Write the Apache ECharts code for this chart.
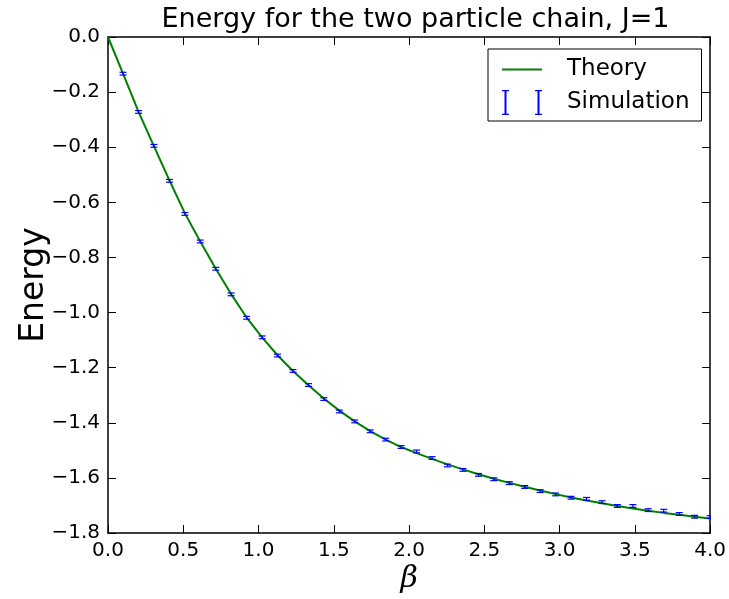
<!DOCTYPE html>
<html>
<head>
<meta charset="utf-8">
<script src="https://cdn.jsdelivr.net/npm/echarts@6/dist/echarts.min.js"></script>
<style>
  html, body { margin: 0; padding: 0; background: #ffffff; }
  #chart { width: 729px; height: 599px; }
</style>
</head>
<body>
<div id="chart"></div>
<script>
// Inverse temperature values of the Monte Carlo runs
const betaSim = [0.100, 0.203, 0.305, 0.408, 0.511, 0.613, 0.716, 0.818, 0.921, 1.024,
                 1.126, 1.229, 1.332, 1.434, 1.537, 1.639, 1.742, 1.845, 1.947, 2.050,
                 2.153, 2.255, 2.358, 2.461, 2.563, 2.666, 2.768, 2.871, 2.974, 3.076,
                 3.179, 3.282, 3.384, 3.487, 3.589, 3.692, 3.795, 3.897, 4.000];
// Mean energy from the simulation
const energySim = [-0.133, -0.272, -0.395, -0.522, -0.642, -0.742, -0.841, -0.934, -1.019, -1.090,
                   -1.156, -1.212, -1.263, -1.314, -1.359, -1.395, -1.431, -1.461, -1.488, -1.504,
                   -1.528, -1.555, -1.571, -1.589, -1.605, -1.619, -1.633, -1.648, -1.660, -1.672,
                   -1.676, -1.688, -1.702, -1.702, -1.717, -1.719, -1.731, -1.741, -1.742];
// Statistical error of each simulated mean
const errorSim = [0.005, 0.005, 0.005, 0.005, 0.005, 0.005, 0.005, 0.005, 0.005, 0.005,
                  0.005, 0.005, 0.005, 0.005, 0.005, 0.005, 0.005, 0.005, 0.005, 0.005,
                  0.005, 0.005, 0.005, 0.005, 0.005, 0.005, 0.005, 0.005, 0.005, 0.005,
                  0.005, 0.005, 0.005, 0.005, 0.005, 0.005, 0.005, 0.005, 0.005];
// Exact energy curve
const betaTheory = [0.000, 0.100, 0.203, 0.305, 0.408, 0.511, 0.613, 0.716, 0.818, 0.921, 1.024,
                    1.126, 1.229, 1.332, 1.434, 1.537, 1.639, 1.742, 1.845, 1.947, 2.050,
                    2.153, 2.255, 2.358, 2.461, 2.563, 2.666, 2.768, 2.871, 2.974, 3.076,
                    3.179, 3.282, 3.384, 3.487, 3.589, 3.692, 3.795, 3.897, 4.000];
const energyTheory = [0.000, -0.133, -0.272, -0.396, -0.520, -0.640, -0.742, -0.841, -0.933, -1.018, -1.090,
                      -1.155, -1.212, -1.264, -1.312, -1.356, -1.395, -1.430, -1.461, -1.488, -1.510,
                      -1.531, -1.551, -1.569, -1.587, -1.603, -1.618, -1.632, -1.646, -1.659, -1.671,
                      -1.682, -1.692, -1.702, -1.711, -1.719, -1.727, -1.734, -1.741, -1.747];
const xTickStep = 0.5;
const yTickStep = 0.2;

const FONT = 'DejaVu Sans';
const fmt = v => (v < -1e-9 ? '\u2212' : '') + Math.abs(v).toFixed(1);

const chart = echarts.init(document.getElementById('chart'), null, { renderer: 'canvas' });

const frameLine = { show: true, onZero: false, lineStyle: { color: '#000', width: 1.5 } };
const innerTick = { show: true, inside: true, length: 8, lineStyle: { color: '#000', width: 1 } };

// Vertical error bar with short caps at both ends
function errorBar(params, api) {
  const x = api.value(0), y = api.value(1), e = api.value(2);
  const hi = api.coord([x, y + e]);
  const lo = api.coord([x, y - e]);
  const w = 3.5;
  const style = { stroke: '#0000ff', lineWidth: 1.2 };
  return {
    type: 'group',
    children: [
      { type: 'line', shape: { x1: hi[0], y1: hi[1], x2: lo[0], y2: lo[1] }, style },
      { type: 'line', shape: { x1: hi[0] - w, y1: hi[1], x2: hi[0] + w, y2: hi[1] }, style },
      { type: 'line', shape: { x1: lo[0] - w, y1: lo[1], x2: lo[0] + w, y2: lo[1] }, style }
    ]
  };
}

// Legend keys drawn in a 40 x 25 box
const lineIcon = 'path://M0,0H0.01V0.01H0Z M0,11.5H40V13.5H0Z M39.99,24.99H40V25H39.99Z';
const errIcon = 'path://M0,0H7V1.2H4.5V23.8H7V25H0V23.8H2.5V1.2H0Z M33,0H40V1.2H37.5V23.8H40V25H33V23.8H35.5V1.2H33Z';

chart.setOption({
  backgroundColor: '#ffffff',
  animation: false,
  title: {
    text: 'Energy for the two particle chain, J=1',
    left: 410.5,
    top: 1,
    textAlign: 'center',
    textStyle: { fontFamily: FONT, fontSize: 27, fontWeight: 'normal', color: '#000' }
  },
  legend: {
    orient: 'vertical',
    left: 488,
    top: 49,
    padding: [8, 12, 6, 14],
    itemGap: 8,
    itemWidth: 40,
    itemHeight: 25,
    borderColor: '#000',
    borderWidth: 1,
    borderRadius: 0,
    backgroundColor: '#fff',
    textStyle: { fontFamily: FONT, fontSize: 23, color: '#000', lineHeight: 25, padding: [0, 0, 0, 20] },
    data: [{ name: 'Theory', icon: lineIcon }, { name: 'Simulation', icon: errIcon }]
  },
  grid: { left: 108, right: 16, top: 37, bottom: 64, containLabel: false },
  xAxis: [
    {
      type: 'value', min: 0, max: 4, interval: xTickStep, position: 'bottom',
      axisLine: frameLine, axisTick: innerTick, splitLine: { show: false },
      axisLabel: { formatter: fmt, fontFamily: FONT, fontSize: 20, color: '#000', margin: 8 },
      name: 'β', nameLocation: 'middle', nameGap: 31, nameMoveOverlap: false,
      nameTextStyle: { fontFamily: 'DejaVu Serif', fontStyle: 'italic', fontSize: 30, color: '#000' }
    },
    {
      type: 'value', min: 0, max: 4, interval: xTickStep, position: 'top',
      axisLine: frameLine, axisTick: innerTick, splitLine: { show: false },
      axisLabel: { show: false }
    }
  ],
  yAxis: [
    {
      type: 'value', min: -1.8, max: 0, interval: yTickStep, position: 'left',
      axisLine: frameLine, axisTick: innerTick, splitLine: { show: false },
      axisLabel: { formatter: fmt, fontFamily: FONT, fontSize: 20, color: '#000', margin: 8 },
      name: 'Energy', nameLocation: 'middle', nameRotate: 90, nameGap: 57, nameMoveOverlap: false,
      nameTextStyle: { fontFamily: FONT, fontSize: 33, color: '#000' }
    },
    {
      type: 'value', min: -1.8, max: 0, interval: yTickStep, position: 'right',
      axisLine: frameLine, axisTick: innerTick, splitLine: { show: false },
      axisLabel: { show: false }
    }
  ],
  series: [
    {
      name: 'Theory',
      type: 'line',
      xAxisIndex: 0, yAxisIndex: 0,
      data: betaTheory.map((b, i) => [b, energyTheory[i]]),
      symbol: 'none',
      lineStyle: { color: '#008000', width: 2 },
      itemStyle: { color: '#008000' },
      z: 2
    },
    {
      name: 'Simulation',
      type: 'custom',
      xAxisIndex: 0, yAxisIndex: 0,
      renderItem: errorBar,
      clip: true,
      encode: { x: 0, y: 1 },
      data: betaSim.map((b, i) => [b, energySim[i], errorSim[i]]),
      itemStyle: { color: '#0000ff' },
      z: 3
    }
  ]
});
</script>
</body>
</html>
